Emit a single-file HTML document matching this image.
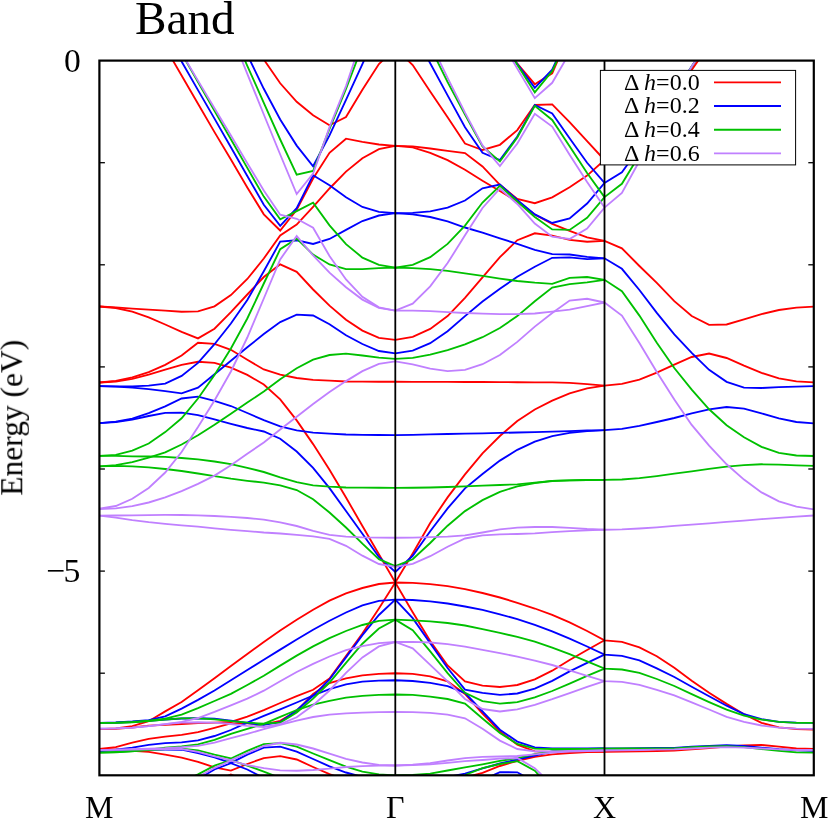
<!DOCTYPE html>
<html><head><meta charset="utf-8"><title>Band</title>
<style>
html,body{margin:0;padding:0;background:#fff;}
body{width:830px;height:821px;position:relative;overflow:hidden;font-family:"Liberation Serif",serif;color:#000;}
.t{position:absolute;white-space:nowrap;line-height:1;will-change:transform;}
</style></head><body>
<svg width="830" height="821" viewBox="0 0 830 821" style="position:absolute;left:0;top:0">
<defs><clipPath id="c"><rect x="99.4" y="60.6" width="714.4" height="714.7"/></clipPath></defs>
<g clip-path="url(#c)" fill="none" stroke-width="1.85" stroke-linejoin="miter" stroke-miterlimit="6" stroke-linecap="butt">
<polyline stroke="#ff0000" points="499.9,43.0 517.3,63.6 534.8,84.2 552.2,73.3 569.6,33.0"/>
<polyline stroke="#ff0000" points="247.3,35.0 263.8,59.5 280.2,83.3 296.7,101.8 313.1,115.3 329.5,125.3 346.0,117.1 362.4,89.7 378.9,64.1 395.3,48.2 412.7,65.0 430.2,91.4 447.6,117.3 465.0,143.6 482.5,150.0 499.9,144.8 517.3,130.1 534.8,105.0 552.2,104.4 569.6,122.2 587.1,141.2 604.5,160.0"/>
<polyline stroke="#ff0000" points="165.2,47.2 181.6,75.5 198.0,103.8 214.5,132.1 230.9,159.5 247.3,187.5 263.8,214.3 280.2,230.5 296.7,209.7 313.1,178.5 329.5,152.8 346.0,138.7 362.4,141.8 378.9,144.5 395.3,145.8 412.7,146.4 430.2,148.5 447.6,150.9 465.0,153.1 482.5,166.4 499.9,184.8 517.3,199.0 534.8,203.2 552.2,197.3 569.6,187.2 587.1,175.6 604.5,160.0 621.9,152.0 639.4,135.0 656.8,115.0 674.3,95.0 691.7,69.9 709.1,45.0"/>
<polyline stroke="#ff0000" points="99.4,306.5 115.8,307.4 132.3,308.6 148.7,309.6 165.2,310.7 181.6,311.7 198.0,311.3 214.5,306.3 230.9,295.1 247.3,279.0 263.8,258.5 280.2,235.5 296.7,224.6 313.1,206.8 329.5,188.5 346.0,171.6 362.4,158.2 378.9,149.1 395.3,145.8 412.7,147.3 430.2,152.8 447.6,160.1 465.0,169.7 482.5,180.7 499.9,191.0 517.3,201.5 534.8,214.5 552.2,223.9 569.6,230.9 587.1,237.3 604.5,240.8 621.9,248.3 639.4,266.0 656.8,282.9 674.3,301.1 691.7,316.0 709.1,324.9 726.6,324.5 744.0,319.3 761.5,314.1 778.9,310.0 796.4,307.7 813.8,306.7"/>
<polyline stroke="#ff0000" points="99.4,306.5 115.8,308.0 132.3,311.7 148.7,317.3 165.2,324.5 181.6,331.8 198.0,338.4 214.5,328.7 230.9,312.1 247.3,294.5 263.8,277.0 280.2,264.3 296.7,271.8 313.1,289.5 329.5,305.6 346.0,319.7 362.4,330.6 378.9,337.9 395.3,339.8 412.7,336.8 430.2,328.9 447.6,316.1 465.0,297.8 482.5,277.3 499.9,257.2 517.3,240.2 534.8,233.3 552.2,235.7 569.6,239.9 587.1,241.7 604.5,240.8"/>
<polyline stroke="#ff0000" points="99.4,382.5 115.8,380.9 132.3,377.4 148.7,372.2 165.2,364.9 181.6,355.6 198.0,342.8 214.5,343.8 230.9,349.8 247.3,359.8 263.8,369.5 280.2,374.7 296.7,378.0 313.1,379.8 329.5,380.7 346.0,381.5 362.4,381.7 378.9,381.7 395.3,381.7 412.7,381.8 430.2,381.8 447.6,381.9 465.0,382.0 482.5,382.0 499.9,382.1 517.3,382.2 534.8,382.3 552.2,382.3 569.6,382.9 587.1,384.1 604.5,385.6 621.9,383.8 639.4,379.6 656.8,372.6 674.3,364.6 691.7,357.0 709.1,353.5 726.6,358.0 744.0,365.7 761.5,372.9 778.9,378.3 796.4,381.4 813.8,382.4"/>
<polyline stroke="#ff0000" points="99.4,382.5 115.8,381.5 132.3,378.8 148.7,374.7 165.2,369.7 181.6,364.9 198.0,361.8 214.5,362.9 230.9,367.6 247.3,374.9 263.8,384.5 280.2,399.4 296.7,420.4 313.1,444.1 329.5,469.7 346.0,497.5 362.4,526.0 378.9,554.3 395.3,582.5 412.7,553.5 430.2,523.0 447.6,497.4 465.0,474.4 482.5,453.3 499.9,436.0 517.3,421.0 534.8,409.5 552.2,400.7 569.6,393.3 587.1,388.3 604.5,385.6"/>
<polyline stroke="#ff0000" points="99.4,729.2 115.8,728.4 132.3,726.2 148.7,721.2 165.2,711.4 181.6,702.0 198.0,690.3 214.5,678.2 230.9,666.1 247.3,654.0 263.8,641.9 280.2,630.5 296.7,619.8 313.1,609.7 329.5,600.6 346.0,593.3 362.4,588.0 378.9,584.0 395.3,582.5 412.7,582.8 430.2,584.1 447.6,586.2 465.0,589.1 482.5,593.0 499.9,597.5 517.3,602.8 534.8,608.5 552.2,614.9 569.6,622.4 587.1,631.0 604.5,640.3 621.9,641.8 639.4,647.4 656.8,656.3 674.3,667.8 691.7,680.8 709.1,692.8 726.6,703.9 744.0,714.2 761.5,722.8 778.9,727.4 796.4,729.0 813.8,729.5"/>
<polyline stroke="#ff0000" points="99.4,729.2 115.8,728.8 132.3,727.5 148.7,725.6 165.2,724.9 181.6,724.0 198.0,723.1 214.5,722.7 230.9,722.0 247.3,716.7 263.8,710.2 280.2,703.0 296.7,696.1 313.1,689.8 329.5,678.5 346.0,656.0 362.4,633.5 378.9,608.4 395.3,582.5 412.7,612.3 430.2,641.1 447.6,665.5 465.0,681.5 482.5,685.6 499.9,687.0 517.3,685.0 534.8,679.4 552.2,670.7 569.6,660.0 587.1,650.0 604.5,640.3"/>
<polyline stroke="#ff0000" points="99.4,749.0 115.8,747.2 132.3,742.6 148.7,738.8 165.2,736.6 181.6,734.8 198.0,732.2 214.5,727.8 230.9,723.4 247.3,723.4 263.8,724.3 280.2,720.8 296.7,711.0 313.1,694.0 329.5,683.0 346.0,678.4 362.4,675.3 378.9,673.9 395.3,673.3 412.7,673.8 430.2,676.3 447.6,681.4 465.0,693.9 482.5,713.5 499.9,731.6 517.3,744.6 534.8,751.3 552.2,751.8 569.6,751.7 587.1,751.7 604.5,751.7 621.9,751.5 639.4,751.3 656.8,751.0 674.3,750.7 691.7,749.4 709.1,748.0 726.6,746.7 744.0,745.4 761.5,744.9 778.9,746.7 796.4,748.5 813.8,749.0"/>
<polyline stroke="#ff0000" points="99.4,749.0 115.8,749.5 132.3,750.8 148.7,751.9 165.2,754.7 181.6,757.6 198.0,761.8 214.5,767.3 230.9,770.6 247.3,764.0 263.8,758.1 280.2,756.1 296.7,759.5 313.1,767.0 329.5,774.2 346.0,780.0"/>
<polyline stroke="#ff0000" points="447.6,782.0 465.0,777.5 482.5,772.8 499.9,766.0 517.3,760.8 534.8,756.8 552.2,754.4 569.6,753.0 587.1,752.2 604.5,751.7"/>
<polyline stroke="#ff0000" points="214.5,782.0 230.9,774.4 247.3,782.0"/>
<polyline stroke="#0000ff" points="499.9,40.0 517.3,64.1 534.8,87.9 552.2,69.6 569.6,32.0"/>
<polyline stroke="#0000ff" points="247.3,54.8 263.8,88.8 280.2,119.5 296.7,145.6 313.1,166.3 329.5,135.4 346.0,99.8 362.4,64.1 378.9,28.0 395.3,20.0 412.7,31.0 430.2,63.2 447.6,95.4 465.0,127.2 482.5,152.8 499.9,160.0 517.3,136.5 534.8,105.0 552.2,113.5 569.6,138.3 587.1,162.8 604.5,182.9"/>
<polyline stroke="#0000ff" points="165.2,33.0 181.6,61.5 198.0,90.1 214.5,118.6 230.9,147.3 247.3,176.0 263.8,204.8 280.2,225.8 296.7,208.1 313.1,175.2 329.5,185.2 346.0,197.3 362.4,207.0 378.9,211.9 395.3,213.2 412.7,212.8 430.2,211.4 447.6,207.7 465.0,200.5 482.5,188.3 499.9,184.6 517.3,199.9 534.8,214.4 552.2,223.0 569.6,218.4 587.1,203.5 604.5,182.9 621.9,172.3 639.4,148.0 656.8,121.0 674.3,93.0 691.7,66.6 709.1,40.0"/>
<polyline stroke="#0000ff" points="99.4,386.1 115.8,386.3 132.3,386.3 148.7,385.6 165.2,383.6 181.6,375.9 198.0,362.9 214.5,344.2 230.9,323.5 247.3,300.0 263.8,271.3 280.2,241.6 296.7,240.3 313.1,244.0 329.5,239.0 346.0,229.9 362.4,221.0 378.9,215.5 395.3,213.2 412.7,214.3 430.2,217.0 447.6,221.4 465.0,227.5 482.5,232.7 499.9,238.4 517.3,243.9 534.8,249.8 552.2,254.1 569.6,254.5 587.1,256.9 604.5,258.3 621.9,268.8 639.4,290.0 656.8,312.9 674.3,334.3 691.7,352.8 709.1,369.8 726.6,381.8 744.0,387.6 761.5,388.0 778.9,387.2 796.4,386.6 813.8,386.2"/>
<polyline stroke="#0000ff" points="99.4,386.1 115.8,386.7 132.3,387.7 148.7,389.2 165.2,391.2 181.6,393.3 198.0,387.7 214.5,374.2 230.9,360.8 247.3,347.3 263.8,334.1 280.2,322.1 296.7,314.7 313.1,315.5 329.5,324.2 346.0,335.2 362.4,344.0 378.9,351.0 395.3,353.3 412.7,350.6 430.2,343.2 447.6,331.2 465.0,316.1 482.5,301.5 499.9,288.7 517.3,276.8 534.8,266.8 552.2,257.8 569.6,257.4 587.1,259.1 604.5,258.3"/>
<polyline stroke="#0000ff" points="99.4,423.2 115.8,421.7 132.3,418.6 148.7,413.2 165.2,406.3 181.6,398.5 198.0,396.6 214.5,400.9 230.9,406.0 247.3,413.0 263.8,420.2 280.2,426.4 296.7,430.4 313.1,432.6 329.5,433.7 346.0,434.5 362.4,434.8 378.9,435.0 395.3,435.1 412.7,434.8 430.2,434.4 447.6,434.0 465.0,433.6 482.5,433.3 499.9,432.9 517.3,432.5 534.8,432.2 552.2,431.6 569.6,431.1 587.1,430.5 604.5,430.2 621.9,428.9 639.4,425.8 656.8,422.0 674.3,418.0 691.7,413.4 709.1,409.3 726.6,407.0 744.0,408.7 761.5,413.4 778.9,418.4 796.4,422.0 813.8,423.3"/>
<polyline stroke="#0000ff" points="99.4,423.2 115.8,422.2 132.3,419.7 148.7,416.0 165.2,412.9 181.6,412.7 198.0,415.2 214.5,419.3 230.9,423.8 247.3,428.0 263.8,431.5 280.2,438.7 296.7,451.5 313.1,467.9 329.5,488.1 346.0,511.0 362.4,533.8 378.9,557.0 395.3,572.0 412.7,555.8 430.2,531.2 447.6,508.4 465.0,488.3 482.5,474.0 499.9,460.6 517.3,449.8 534.8,441.6 552.2,436.2 569.6,432.9 587.1,431.1 604.5,430.2"/>
<polyline stroke="#0000ff" points="99.4,722.9 115.8,722.5 132.3,721.5 148.7,720.1 165.2,716.3 181.6,708.6 198.0,699.9 214.5,690.5 230.9,680.3 247.3,670.0 263.8,659.8 280.2,649.6 296.7,639.5 313.1,629.7 329.5,620.7 346.0,612.5 362.4,605.3 378.9,600.8 395.3,599.6 412.7,600.0 430.2,601.4 447.6,603.5 465.0,606.5 482.5,609.9 499.9,614.3 517.3,619.2 534.8,624.9 552.2,631.3 569.6,638.7 587.1,646.5 604.5,654.6 621.9,655.9 639.4,660.4 656.8,668.3 674.3,677.0 691.7,686.7 709.1,696.3 726.6,705.7 744.0,714.2 761.5,719.2 778.9,721.8 796.4,722.7 813.8,722.8"/>
<polyline stroke="#0000ff" points="99.4,722.9 115.8,722.7 132.3,722.0 148.7,720.8 165.2,719.5 181.6,718.5 198.0,718.3 214.5,718.7 230.9,720.7 247.3,723.0 263.8,724.8 280.2,722.2 296.7,710.2 313.1,695.8 329.5,679.5 346.0,657.4 362.4,635.1 378.9,615.0 395.3,599.6 412.7,618.2 430.2,643.1 447.6,668.0 465.0,689.7 482.5,692.8 499.9,694.9 517.3,693.5 534.8,688.7 552.2,680.8 569.6,671.4 587.1,662.9 604.5,654.6"/>
<polyline stroke="#0000ff" points="99.4,750.8 115.8,749.7 132.3,747.6 148.7,744.8 165.2,743.2 181.6,742.4 198.0,740.4 214.5,736.0 230.9,730.0 247.3,722.7 263.8,715.9 280.2,709.4 296.7,702.5 313.1,695.5 329.5,689.2 346.0,684.4 362.4,681.7 378.9,680.6 395.3,680.3 412.7,681.0 430.2,682.9 447.6,686.2 465.0,692.8 482.5,711.5 499.9,729.7 517.3,741.6 534.8,747.3 552.2,748.4 569.6,748.5 587.1,748.5 604.5,748.5 621.9,748.4 639.4,748.2 656.8,748.0 674.3,747.9 691.7,746.7 709.1,745.8 726.6,745.2 744.0,745.8 761.5,747.6 778.9,749.2 796.4,750.3 813.8,750.8"/>
<polyline stroke="#0000ff" points="99.4,750.8 115.8,750.6 132.3,750.2 148.7,749.8 165.2,749.6 181.6,749.7 198.0,753.0 214.5,757.4 230.9,762.9 247.3,754.7 263.8,747.7 280.2,746.6 296.7,751.7 313.1,759.0 329.5,766.3 346.0,772.5 362.4,777.0 378.9,781.0"/>
<polyline stroke="#0000ff" points="430.2,781.0 447.6,777.0 465.0,773.6 482.5,768.3 499.9,763.5 517.3,759.5 534.8,755.5 552.2,751.5 569.6,749.5 587.1,748.8 604.5,748.5"/>
<polyline stroke="#0000ff" points="198.0,779.0 214.5,769.5 230.9,763.2 247.3,769.5 263.8,778.0"/>
<polyline stroke="#0000ff" points="482.5,780.0 499.9,772.2 517.3,772.3 534.8,782.0"/>
<polyline stroke="#00c000" points="499.9,37.0 517.3,64.7 534.8,92.3 552.2,71.1 569.6,33.6"/>
<polyline stroke="#00c000" points="230.9,29.0 247.3,65.8 263.8,102.8 280.2,139.5 296.7,174.7 313.1,171.0 329.5,128.8 346.0,88.8 362.4,46.0 378.9,10.0 395.3,0.0 412.7,10.0 430.2,47.0 447.6,82.0 465.0,114.5 482.5,146.5 499.9,161.5 517.3,137.5 534.8,105.8 552.2,120.0 569.6,146.3 587.1,173.0 604.5,197.1"/>
<polyline stroke="#00c000" points="181.6,53.3 198.0,82.0 214.5,110.7 230.9,139.2 247.3,167.9 263.8,196.6 280.2,219.4 296.7,211.2 313.1,202.6 329.5,225.4 346.0,244.1 362.4,257.6 378.9,264.9 395.3,267.6 412.7,264.9 430.2,257.2 447.6,243.9 465.0,225.6 482.5,202.5 499.9,185.8 517.3,201.5 534.8,217.0 552.2,229.4 569.6,229.9 587.1,217.8 604.5,197.1 621.9,183.8 639.4,155.0 656.8,125.0 674.3,95.0 691.7,66.6 709.1,40.0"/>
<polyline stroke="#00c000" points="99.4,455.9 115.8,454.9 132.3,450.7 148.7,443.5 165.2,432.1 181.6,418.3 198.0,398.5 214.5,375.0 230.9,348.5 247.3,318.5 263.8,283.5 280.2,249.2 296.7,238.6 313.1,254.6 329.5,264.5 346.0,269.1 362.4,269.1 378.9,268.2 395.3,267.6 412.7,268.2 430.2,269.1 447.6,270.9 465.0,273.3 482.5,275.9 499.9,278.6 517.3,281.0 534.8,282.7 552.2,283.9 569.6,277.9 587.1,277.0 604.5,279.8 621.9,291.3 639.4,315.6 656.8,342.8 674.3,368.0 691.7,389.7 709.1,409.3 726.6,425.2 744.0,437.2 761.5,446.9 778.9,452.8 796.4,455.5 813.8,456.0"/>
<polyline stroke="#00c000" points="99.4,466.3 115.8,465.2 132.3,462.1 148.7,457.6 165.2,452.4 181.6,444.5 198.0,435.2 214.5,424.8 230.9,413.8 247.3,402.6 263.8,391.5 280.2,379.3 296.7,368.3 313.1,359.7 329.5,355.0 346.0,353.7 362.4,355.5 378.9,357.7 395.3,358.8 412.7,357.8 430.2,354.7 447.6,350.1 465.0,344.3 482.5,337.2 499.9,328.0 517.3,316.1 534.8,301.2 552.2,287.6 569.6,284.1 587.1,282.3 604.5,279.8"/>
<polyline stroke="#00c000" points="99.4,455.9 115.8,455.9 132.3,456.3 148.7,456.5 165.2,456.9 181.6,458.0 198.0,459.4 214.5,461.5 230.9,464.2 247.3,467.9 263.8,472.0 280.2,477.4 296.7,482.2 313.1,485.3 329.5,486.7 346.0,487.5 362.4,487.6 378.9,487.7 395.3,487.8 412.7,487.7 430.2,487.5 447.6,487.0 465.0,486.4 482.5,485.7 499.9,485.0 517.3,484.3 534.8,482.7 552.2,480.8 569.6,480.4 587.1,480.0 604.5,479.8 621.9,479.5 639.4,478.2 656.8,476.1 674.3,473.7 691.7,471.3 709.1,468.9 726.6,466.7 744.0,465.1 761.5,464.3 778.9,464.6 796.4,465.4 813.8,465.9"/>
<polyline stroke="#00c000" points="99.4,466.3 115.8,465.9 132.3,466.3 148.7,467.3 165.2,469.0 181.6,471.0 198.0,473.5 214.5,476.2 230.9,478.7 247.3,480.8 263.8,482.6 280.2,485.3 296.7,490.0 313.1,499.2 329.5,512.5 346.0,527.5 362.4,543.7 378.9,559.2 395.3,566.2 412.7,559.3 430.2,543.0 447.6,525.7 465.0,511.1 482.5,500.1 499.9,491.9 517.3,486.3 534.8,483.2 552.2,481.0 569.6,480.4 587.1,480.0 604.5,479.8"/>
<polyline stroke="#00c000" points="99.4,722.9 115.8,722.7 132.3,722.0 148.7,720.7 165.2,718.7 181.6,714.7 198.0,708.1 214.5,701.0 230.9,693.8 247.3,685.0 263.8,675.7 280.2,665.6 296.7,655.6 313.1,646.4 329.5,638.2 346.0,631.0 362.4,625.0 378.9,620.8 395.3,619.6 412.7,620.3 430.2,621.4 447.6,623.0 465.0,625.5 482.5,629.1 499.9,632.8 517.3,636.9 534.8,641.7 552.2,647.6 569.6,654.2 587.1,661.4 604.5,668.7 621.9,669.5 639.4,672.8 656.8,679.0 674.3,686.0 691.7,694.2 709.1,702.1 726.6,709.6 744.0,715.6 761.5,719.6 778.9,721.9 796.4,722.8 813.8,722.8"/>
<polyline stroke="#00c000" points="99.4,722.9 115.8,722.8 132.3,722.3 148.7,721.2 165.2,719.6 181.6,718.3 198.0,718.3 214.5,719.4 230.9,721.2 247.3,722.7 263.8,723.6 280.2,722.6 296.7,712.5 313.1,698.6 329.5,682.5 346.0,662.9 362.4,643.7 378.9,628.5 395.3,619.6 412.7,630.1 430.2,651.4 447.6,673.2 465.0,692.8 482.5,701.1 499.9,703.6 517.3,702.2 534.8,697.4 552.2,691.0 569.6,683.6 587.1,675.9 604.5,668.7"/>
<polyline stroke="#00c000" points="99.4,752.7 115.8,752.3 132.3,751.4 148.7,749.7 165.2,747.6 181.6,746.3 198.0,744.3 214.5,739.9 230.9,733.8 247.3,728.8 263.8,723.8 280.2,716.8 296.7,710.0 313.1,704.7 329.5,700.8 346.0,697.6 362.4,695.8 378.9,694.9 395.3,694.5 412.7,694.9 430.2,696.6 447.6,699.0 465.0,703.6 482.5,718.5 499.9,733.0 517.3,744.0 534.8,748.6 552.2,749.0 569.6,749.0 587.1,748.8 604.5,748.6 621.9,748.5 639.4,748.5 656.8,748.4 674.3,748.4 691.7,747.2 709.1,746.3 726.6,746.1 744.0,747.2 761.5,749.0 778.9,750.8 796.4,752.3 813.8,752.7"/>
<polyline stroke="#00c000" points="99.4,752.7 115.8,752.0 132.3,751.0 148.7,750.0 165.2,749.0 181.6,748.6 198.0,750.3 214.5,754.7 230.9,758.5 247.3,750.8 263.8,744.1 280.2,743.2 296.7,746.6 313.1,753.5 329.5,760.2 346.0,766.7 362.4,771.6 378.9,774.3 395.3,775.3 412.7,774.8 430.2,773.6 447.6,770.5 465.0,767.4 482.5,764.3 499.9,760.9 517.3,758.1 534.8,754.2 552.2,751.3 569.6,750.0 587.1,749.2 604.5,748.6"/>
<polyline stroke="#00c000" points="181.6,782.0 198.0,774.4 214.5,765.6 230.9,760.2 247.3,765.6 263.8,771.6 280.2,778.0"/>
<polyline stroke="#00c000" points="465.0,775.0 482.5,768.2 499.9,764.0 517.3,761.1 534.8,770.7 552.2,790.0"/>
<polyline stroke="#c080ff" points="499.9,39.0 517.3,68.6 534.8,98.1 552.2,82.8 569.6,52.8"/>
<polyline stroke="#c080ff" points="230.9,33.0 247.3,73.8 263.8,114.5 280.2,154.5 296.7,194.0 313.1,173.6 329.5,127.2 346.0,86.1 362.4,37.0 378.9,0.0 395.3,-10.0 412.7,5.0 430.2,42.0 447.6,77.8 465.0,112.6 482.5,145.4 499.9,166.0 517.3,143.5 534.8,113.8 552.2,126.6 569.6,154.8 587.1,182.0 604.5,207.6"/>
<polyline stroke="#c080ff" points="181.6,53.0 198.0,80.6 214.5,108.2 230.9,135.6 247.3,163.2 263.8,190.5 280.2,214.7 296.7,218.8 313.1,227.7 329.5,256.0 346.0,279.5 362.4,296.8 378.9,307.4 395.3,310.6 412.7,303.7 430.2,286.3 447.6,263.1 465.0,235.3 482.5,208.0 499.9,188.5 517.3,204.0 534.8,223.5 552.2,236.7 569.6,239.0 587.1,228.6 604.5,207.6 621.9,192.9 639.4,161.0 656.8,128.0 674.3,96.0 691.7,66.6 709.1,40.0"/>
<polyline stroke="#c080ff" points="99.4,508.7 115.8,506.0 132.3,498.8 148.7,488.0 165.2,472.5 181.6,452.0 198.0,427.0 214.5,400.5 230.9,371.5 247.3,337.5 263.8,298.5 280.2,259.4 296.7,236.0 313.1,255.5 329.5,272.7 346.0,287.3 362.4,299.6 378.9,307.8 395.3,310.6 412.7,310.6 430.2,311.1 447.6,312.1 465.0,313.0 482.5,313.7 499.9,314.1 517.3,314.1 534.8,313.5 552.2,311.6 569.6,309.6 587.1,306.1 604.5,302.5 621.9,315.6 639.4,343.0 656.8,371.9 674.3,399.6 691.7,424.9 709.1,445.6 726.6,464.3 744.0,479.6 761.5,492.4 778.9,501.3 796.4,506.6 813.8,509.3"/>
<polyline stroke="#c080ff" points="99.4,509.1 115.8,508.3 132.3,506.2 148.7,502.5 165.2,497.3 181.6,491.1 198.0,483.9 214.5,475.6 230.9,465.2 247.3,453.8 263.8,442.4 280.2,429.5 296.7,416.7 313.1,404.0 329.5,392.1 346.0,381.1 362.4,371.1 378.9,363.8 395.3,361.4 412.7,364.4 430.2,368.7 447.6,371.1 465.0,369.8 482.5,364.2 499.9,355.0 517.3,341.9 534.8,326.6 552.2,312.9 569.6,300.6 587.1,298.8 604.5,302.5"/>
<polyline stroke="#c080ff" points="99.4,515.6 115.8,515.5 132.3,515.3 148.7,515.1 165.2,514.9 181.6,515.0 198.0,515.3 214.5,516.0 230.9,516.8 247.3,518.0 263.8,519.7 280.2,522.4 296.7,526.0 313.1,530.8 329.5,534.8 346.0,536.6 362.4,537.4 378.9,537.7 395.3,537.7 412.7,537.6 430.2,537.2 447.6,536.7 465.0,535.4 482.5,532.5 499.9,529.4 517.3,527.6 534.8,527.0 552.2,527.0 569.6,527.9 587.1,529.0 604.5,529.7 621.9,529.4 639.4,528.5 656.8,527.3 674.3,525.9 691.7,524.6 709.1,523.3 726.6,521.9 744.0,520.6 761.5,519.2 778.9,517.9 796.4,516.6 813.8,515.5"/>
<polyline stroke="#c080ff" points="99.4,515.6 115.8,517.6 132.3,520.1 148.7,522.2 165.2,523.8 181.6,525.3 198.0,526.7 214.5,528.4 230.9,529.8 247.3,531.1 263.8,532.5 280.2,533.5 296.7,534.8 313.1,536.3 329.5,538.8 346.0,545.8 362.4,555.7 378.9,564.0 395.3,566.8 412.7,563.8 430.2,556.2 447.6,546.7 465.0,538.5 482.5,535.4 499.9,534.3 517.3,534.0 534.8,533.4 552.2,532.1 569.6,531.2 587.1,530.3 604.5,529.7"/>
<polyline stroke="#c080ff" points="99.4,728.6 115.8,728.4 132.3,727.6 148.7,726.2 165.2,724.2 181.6,721.9 198.0,718.0 214.5,711.9 230.9,705.3 247.3,698.7 263.8,690.7 280.2,681.2 296.7,672.0 313.1,663.8 329.5,656.5 346.0,650.1 362.4,646.1 378.9,643.2 395.3,642.0 412.7,641.9 430.2,642.5 447.6,644.2 465.0,646.7 482.5,649.8 499.9,653.1 517.3,656.6 534.8,660.7 552.2,665.0 569.6,670.3 587.1,675.9 604.5,681.1 621.9,681.9 639.4,684.8 656.8,689.8 674.3,695.4 691.7,702.3 709.1,709.5 726.6,716.9 744.0,721.9 761.5,725.5 778.9,727.7 796.4,728.6 813.8,728.8"/>
<polyline stroke="#c080ff" points="99.4,728.6 115.8,728.4 132.3,727.6 148.7,726.2 165.2,724.2 181.6,722.7 198.0,722.3 214.5,722.7 230.9,724.0 247.3,725.8 263.8,727.0 280.2,724.1 296.7,717.3 313.1,705.2 329.5,690.5 346.0,672.9 362.4,657.4 378.9,646.4 395.3,642.0 412.7,648.3 430.2,664.9 447.6,681.4 465.0,699.0 482.5,709.0 499.9,711.5 517.3,709.4 534.8,704.8 552.2,699.2 569.6,693.1 587.1,686.9 604.5,681.1"/>
<polyline stroke="#c080ff" points="99.4,750.1 115.8,749.7 132.3,749.2 148.7,748.6 165.2,748.1 181.6,747.2 198.0,745.9 214.5,742.6 230.9,738.2 247.3,733.8 263.8,729.2 280.2,724.9 296.7,720.6 313.1,717.0 329.5,714.6 346.0,713.3 362.4,712.6 378.9,712.2 395.3,712.0 412.7,712.1 430.2,712.9 447.6,714.6 465.0,718.3 482.5,728.8 499.9,740.6 517.3,749.0 534.8,751.4 552.2,751.3 569.6,751.0 587.1,750.7 604.5,750.5 621.9,750.3 639.4,750.0 656.8,749.6 674.3,749.3 691.7,748.5 709.1,747.6 726.6,747.2 744.0,747.6 761.5,748.5 778.9,749.4 796.4,750.0 813.8,750.0"/>
<polyline stroke="#c080ff" points="99.4,750.1 115.8,749.9 132.3,749.6 148.7,749.3 165.2,749.1 181.6,749.0 198.0,751.9 214.5,756.3 230.9,760.2 247.3,753.0 263.8,746.0 280.2,742.8 296.7,744.5 313.1,748.5 329.5,753.6 346.0,758.8 362.4,762.5 378.9,764.8 395.3,765.5 412.7,764.7 430.2,763.2 447.6,760.5 465.0,758.1 482.5,756.8 499.9,756.5 517.3,756.0 534.8,754.3 552.2,752.7 569.6,751.5 587.1,751.0 604.5,750.5"/>
<polyline stroke="#c080ff" points="181.6,786.0 198.0,777.0 214.5,767.8 230.9,760.7 247.3,765.1 263.8,768.2 280.2,770.3 296.7,770.7 313.1,770.0 329.5,768.7 346.0,767.0 362.4,766.1 378.9,765.6 395.3,765.5 412.7,765.1 430.2,764.3 447.6,762.8 465.0,761.2 482.5,760.0 499.9,758.6 517.3,758.0 534.8,768.2 552.2,785.0"/>
</g>
<g stroke="#000" stroke-width="1.8" fill="none">
<line x1="395.3" y1="60.6" x2="395.3" y2="775.3"/>
<line x1="604.5" y1="60.6" x2="604.5" y2="775.3"/>
</g>
<rect x="600.4" y="70.4" width="195.2" height="94.5" fill="#fff" stroke="#000" stroke-width="1"/>
<line x1="714" y1="82.4" x2="781" y2="82.4" stroke="#ff0000" stroke-width="1.85"/>
<line x1="714" y1="106.0" x2="781" y2="106.0" stroke="#0000ff" stroke-width="1.85"/>
<line x1="714" y1="129.7" x2="781" y2="129.7" stroke="#00c000" stroke-width="1.85"/>
<line x1="714" y1="153.4" x2="781" y2="153.4" stroke="#c080ff" stroke-width="1.85"/>
<g stroke="#000" stroke-width="2.2" fill="none">
<rect x="99.4" y="60.6" width="714.4" height="714.7"/>
</g>
<g stroke="#000" stroke-width="1.3">
<line x1="99.4" y1="162.7" x2="104.9" y2="162.7"/>
<line x1="813.8" y1="162.7" x2="808.3" y2="162.7"/>
<line x1="99.4" y1="264.8" x2="104.9" y2="264.8"/>
<line x1="813.8" y1="264.8" x2="808.3" y2="264.8"/>
<line x1="99.4" y1="366.9" x2="104.9" y2="366.9"/>
<line x1="813.8" y1="366.9" x2="808.3" y2="366.9"/>
<line x1="99.4" y1="469.0" x2="104.9" y2="469.0"/>
<line x1="813.8" y1="469.0" x2="808.3" y2="469.0"/>
<line x1="99.4" y1="571.1" x2="104.9" y2="571.1"/>
<line x1="813.8" y1="571.1" x2="808.3" y2="571.1"/>
<line x1="99.4" y1="673.2" x2="104.9" y2="673.2"/>
<line x1="813.8" y1="673.2" x2="808.3" y2="673.2"/>
</g>
</svg>
<div class="t" style="left:134.9px;top:-5.3px;font-size:47.2px;">Band</div>
<div class="t" style="left:63.7px;top:43.5px;font-size:33.6px;">0</div>
<div class="t" style="left:45.9px;top:554.1px;font-size:33.7px;"><span style="letter-spacing:-1.5px">−</span>5</div>
<div class="t" style="left:85.1px;top:790.5px;font-size:32px;">M</div>
<div class="t" style="left:386px;top:790.7px;font-size:32px;">Γ</div>
<div class="t" style="left:593.4px;top:790.7px;font-size:32px;">X</div>
<div class="t" style="left:799.5px;top:790.5px;font-size:32px;">M</div>
<div class="t" style="left:-87.9px;top:402.1px;width:200px;text-align:center;font-size:31.5px;transform:rotate(-90deg);transform-origin:center;">Energy (eV)</div>
<div class="t" style="left:624px;top:69.6px;font-size:24px;">Δ <i>h</i>=0.0</div>
<div class="t" style="left:624px;top:93.2px;font-size:24px;">Δ <i>h</i>=0.2</div>
<div class="t" style="left:624px;top:116.9px;font-size:24px;">Δ <i>h</i>=0.4</div>
<div class="t" style="left:624px;top:140.6px;font-size:24px;">Δ <i>h</i>=0.6</div>
</body></html>
